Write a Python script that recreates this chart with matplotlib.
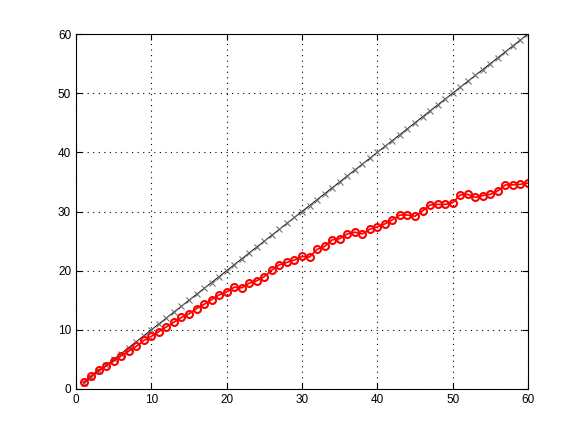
import matplotlib
matplotlib.use("Agg")
import matplotlib.pyplot as plt

# x positions and the two series
x = list(range(1, 61))
ideal = list(range(1, 61))
measured = [1.1, 2.2, 3.2, 3.9, 4.7, 5.6, 6.4, 7.2, 8.2, 8.9,
            9.7, 10.5, 11.3, 12.1, 12.7, 13.6, 14.3, 15.1, 15.9, 16.4,
            17.2, 17.1, 17.9, 18.3, 19.0, 20.1, 21.0, 21.4, 21.8, 22.4,
            22.3, 23.6, 24.1, 25.2, 25.4, 26.2, 26.5, 26.2, 27.0, 27.4,
            27.9, 28.6, 29.4, 29.4, 29.2, 30.1, 31.1, 31.2, 31.2, 31.5,
            32.8, 32.9, 32.4, 32.7, 32.9, 33.5, 34.5, 34.5, 34.6, 34.8]

xticks = [0, 10, 20, 30, 40, 50, 60]
yticks = [0, 10, 20, 30, 40, 50, 60]

plt.rcParams['font.family'] = ['Liberation Sans', 'DejaVu Sans']

fig = plt.figure(figsize=(5.81, 4.36), dpi=100)
ax = fig.add_axes([0.1308, 0.1078, 0.7780, 0.8142])

ax.plot(x, ideal, color='black', marker='x', markersize=5, linewidth=0.7,
        markeredgewidth=0.8, markeredgecolor='0.45')
ax.plot(x, measured, color='red', marker='o', markersize=5, linewidth=1.2,
        markerfacecolor='none', markeredgewidth=1.5)

ax.set_xlim(0, 60)
ax.set_ylim(0, 60)
ax.set_xticks(xticks)
ax.set_yticks(yticks)
ax.grid(True, color='black', linestyle=(0, (1, 4)), linewidth=0.8)
ax.tick_params(direction='in', length=4, labelsize=8.5, top=True, right=True)
for s in ax.spines.values():
    s.set_linewidth(0.8)

fig.savefig('out.png', dpi=100)
